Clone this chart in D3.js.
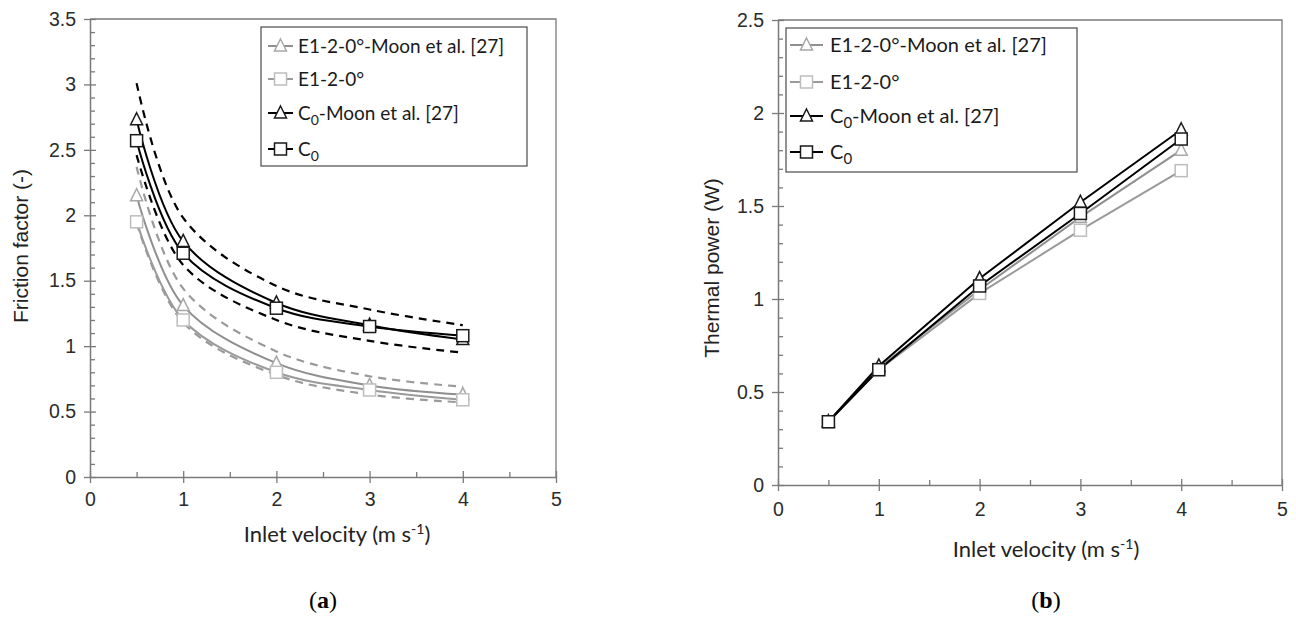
<!DOCTYPE html>
<html>
<head>
<meta charset="utf-8">
<script src="https://cdn.jsdelivr.net/npm/d3@7"></script>
<style>
    body { margin: 0; background: #fff; }
    svg { display: block; }
    .tick text { font-family: "Liberation Sans", Arial, sans-serif; font-size: 19.5px; fill: #2b2b2b; }
</style>
</head>
<body>
<div id="viz"></div>
<script>
const velocity = [0.5, 1, 2, 3, 4];

// (a) friction factor
const fricE1Moon = [2.15, 1.31, 0.87, 0.70, 0.63];
const fricE1 = [1.95, 1.20, 0.80, 0.665, 0.59];
const fricC0Moon = [2.73, 1.80, 1.33, 1.16, 1.05];
const fricC0 = [2.57, 1.71, 1.29, 1.15, 1.08];
const fricC0Upper = [3.01, 1.98, 1.46, 1.28, 1.16];
const fricC0Lower = [2.46, 1.62, 1.20, 1.04, 0.95];
const fricE1Upper = [2.37, 1.44, 0.96, 0.77, 0.69];
const fricE1Lower = [1.94, 1.18, 0.78, 0.63, 0.57];

// (b) thermal power
const powE1Moon = [0.34, 0.63, 1.05, 1.44, 1.80];
const powE1 = [0.34, 0.62, 1.03, 1.37, 1.69];
const powC0Moon = [0.34, 0.64, 1.11, 1.52, 1.91];
const powC0 = [0.34, 0.62, 1.07, 1.46, 1.86];

const xTicks = [0, 1, 2, 3, 4, 5];
const xMinor = [0.5, 1.5, 2.5, 3.5, 4.5];
const fricTicks = [0, 0.5, 1, 1.5, 2, 2.5, 3, 3.5];
const powTicks = [0, 0.5, 1, 1.5, 2, 2.5];

const legendNames = ['E1-2-0°-Moon et al. [27]', 'E1-2-0°', 'C0-Moon et al. [27]', 'C0'];

const svg = d3.select('#viz').append('svg')
    .attr('width', 1296)
    .attr('height', 624);

const series = [
    { shape: 'tri', line: '#8f8f8f', mark: '#a8a8a8', width: 2 },
    { shape: 'sq', line: '#9a9a9a', mark: '#bdbdbd', width: 2 },
    { shape: 'tri', line: '#000', mark: '#1a1a1a', width: 2 },
    { shape: 'sq', line: '#000', mark: '#1a1a1a', width: 2 }
];

function marker(g, shape, x, y, color) {
    if (shape === 'sq') {
        g.append('rect')
            .attr('x', x - 6).attr('y', y - 6)
            .attr('width', 12).attr('height', 12)
            .attr('fill', '#fff')
            .attr('stroke', color)
            .attr('stroke-width', 1.5);
    } else {
        g.append('path')
            .attr('d', `M${x},${y - 7}L${x + 6},${y + 5}L${x - 6},${y + 5}Z`)
            .attr('fill', '#fff')
            .attr('stroke', color)
            .attr('stroke-width', 1.5);
    }
}

function drawAxes(p) {
    const g = svg.append('g');

    // frame top and right
    g.append('path')
        .attr('d', `M${p.x.range()[0]},${p.y.range()[1]}H${p.x.range()[1]}V${p.y.range()[0]}`)
        .attr('fill', 'none')
        .attr('stroke', '#7a7a7a')
        .attr('stroke-width', 1.3);

    const xMin = g.append('g')
        .attr('transform', `translate(0,${p.y.range()[0]})`)
        .call(d3.axisBottom(p.x).tickValues(xMinor).tickSize(-5).tickFormat(''));
    xMin.select('.domain').remove();

    const yMin = g.append('g')
        .attr('transform', `translate(${p.x.range()[0]},0)`)
        .call(d3.axisLeft(p.y).tickValues(p.yMinor).tickSize(-5).tickFormat(''));
    yMin.select('.domain').remove();

    const xAx = g.append('g')
        .attr('transform', `translate(0,${p.y.range()[0]})`)
        .call(d3.axisBottom(p.x).tickValues(xTicks).tickSize(6).tickPadding(p.xPad).tickSizeOuter(0).tickFormat(d3.format('~g')));
    xAx.selectAll('line').attr('y1', -6);

    const yAx = g.append('g')
        .attr('transform', `translate(${p.x.range()[0]},0)`)
        .call(d3.axisLeft(p.y).tickValues(p.yTicks).tickSize(6).tickPadding(8).tickSizeOuter(0).tickFormat(d3.format('~g')));
    yAx.selectAll('line').attr('x1', 6);

    g.selectAll('.domain').attr('stroke', '#7a7a7a').attr('stroke-width', 1.5);
    g.selectAll('.tick line').attr('stroke', '#7a7a7a').attr('stroke-width', 1.3);

    // y title
    g.append('text')
        .attr('transform', `translate(${p.yTitle[0]},${p.yTitle[1]}) rotate(-90)`)
        .attr('text-anchor', 'middle')
        .attr('dominant-baseline', 'middle')
        .style('font-family', '"Liberation Sans", Arial, sans-serif')
        .style('font-size', '21px')
        .attr('fill', '#222')
        .text(p.yLabel);

    // x title
    const xt = g.append('text')
        .attr('x', p.xTitle[0])
        .attr('y', p.xTitle[1])
        .attr('text-anchor', 'middle')
        .style('font-family', 'Lato, "Open Sans", sans-serif')
        .style('font-size', '22px')
        .attr('fill', '#222');
    xt.append('tspan').text('Inlet velocity (m s');
    xt.append('tspan').attr('dy', -8).style('font-size', '14px').text('-1');
    xt.append('tspan').attr('dy', 8).text(')');

    // caption
    const cap = g.append('text')
        .attr('x', p.caption[0])
        .attr('y', p.caption[1])
        .attr('text-anchor', 'middle')
        .style('font-family', '"Liberation Serif", "DejaVu Serif", serif')
        .style('font-size', '24px')
        .attr('fill', '#000');
    cap.append('tspan').text('(');
    cap.append('tspan').style('font-weight', 'bold').text(p.tag);
    cap.append('tspan').text(')');
}

function drawLegend(p) {
    const L = p.legend;
    const g = svg.append('g');

    g.append('rect')
        .attr('x', L.x).attr('y', L.y)
        .attr('width', L.w).attr('height', L.h)
        .attr('fill', '#fff')
        .attr('stroke', '#4a4a4a')
        .attr('stroke-width', 1.2);

    legendNames.forEach((name, i) => {
        const s = series[i];
        const cy = L.rows[i];
        g.append('line')
            .attr('x1', L.lx).attr('x2', L.lx + L.lw)
            .attr('y1', cy).attr('y2', cy)
            .attr('stroke', s.line)
            .attr('stroke-width', 2);
        marker(g, s.shape, L.lx + L.lw / 2, cy, s.mark);

        const t = g.append('text')
            .attr('x', L.tx)
            .attr('y', cy)
            .attr('dy', '0.35em')
            .style('font-family', 'Lato, "Open Sans", sans-serif')
            .style('font-size', L.fs + 'px')
            .attr('fill', '#1a1a1a');
        if (name.startsWith('C0')) {
            t.append('tspan').text('C');
            t.append('tspan').attr('dy', 5).style('font-size', (L.fs - 5) + 'px').text('0');
            t.append('tspan').attr('dy', -5).text(name.slice(2));
        } else {
            t.text(name);
        }
    });
}

function drawPanel(p) {
    drawAxes(p);

    const line = d3.line()
        .x((d, i) => p.x(velocity[i]))
        .y(d => p.y(d))
        .curve(p.smooth ? d3.curveCatmullRom.alpha(0.5) : d3.curveLinear);

    const plot = svg.append('g');

    (p.dashed || []).forEach(d => {
        plot.append('path')
            .attr('d', line(d.values))
            .attr('fill', 'none')
            .attr('stroke', d.color)
            .attr('stroke-width', 2.2)
            .attr('stroke-dasharray', '8,6');
    });

    p.values.forEach((vals, k) => {
        plot.append('path')
            .attr('d', line(vals))
            .attr('fill', 'none')
            .attr('stroke', series[k].line)
            .attr('stroke-width', series[k].width);
    });

    p.values.forEach((vals, k) => {
        vals.forEach((v, i) => marker(plot, series[k].shape, p.x(velocity[i]), p.y(v), series[k].mark));
    });

    drawLegend(p);
}

drawPanel({
    x: d3.scaleLinear().domain([0, 5]).range([90, 556]),
    y: d3.scaleLinear().domain([0, 3.5]).range([477, 19]),
    yTicks: fricTicks,
    yMinor: d3.range(1, 35).map(d => d / 10).filter(d => Math.round(d * 10) % 5 !== 0),
    xPad: 9,
    smooth: true,
    yLabel: 'Friction factor (-)',
    yTitle: [22, 246],
    xTitle: [337, 542],
    caption: [323, 608],
    tag: 'a',
    values: [fricE1Moon, fricE1, fricC0Moon, fricC0],
    dashed: [
        { values: fricE1Upper, color: '#9a9a9a' },
        { values: fricE1Lower, color: '#9a9a9a' },
        { values: fricC0Upper, color: '#000' },
        { values: fricC0Lower, color: '#000' }
    ],
    legend: { x: 261, y: 27, w: 266, h: 139, rows: [46, 79, 113, 149], lx: 268, lw: 25, tx: 298, fs: 19 }
});

drawPanel({
    x: d3.scaleLinear().domain([0, 5]).range([778, 1282]),
    y: d3.scaleLinear().domain([0, 2.5]).range([485, 20]),
    yTicks: powTicks,
    yMinor: d3.range(1, 25).map(d => d / 10).filter(d => Math.round(d * 10) % 5 !== 0),
    xPad: 11,
    smooth: false,
    yLabel: 'Thermal power (W)',
    yTitle: [713, 268],
    xTitle: [1046, 557],
    caption: [1046, 608],
    tag: 'b',
    values: [powE1Moon, powE1, powC0Moon, powC0],
    legend: { x: 786, y: 28, w: 291, h: 144, rows: [45, 82, 116, 152], lx: 790, lw: 33, tx: 830, fs: 20 }
});
</script>
</body>
</html>
